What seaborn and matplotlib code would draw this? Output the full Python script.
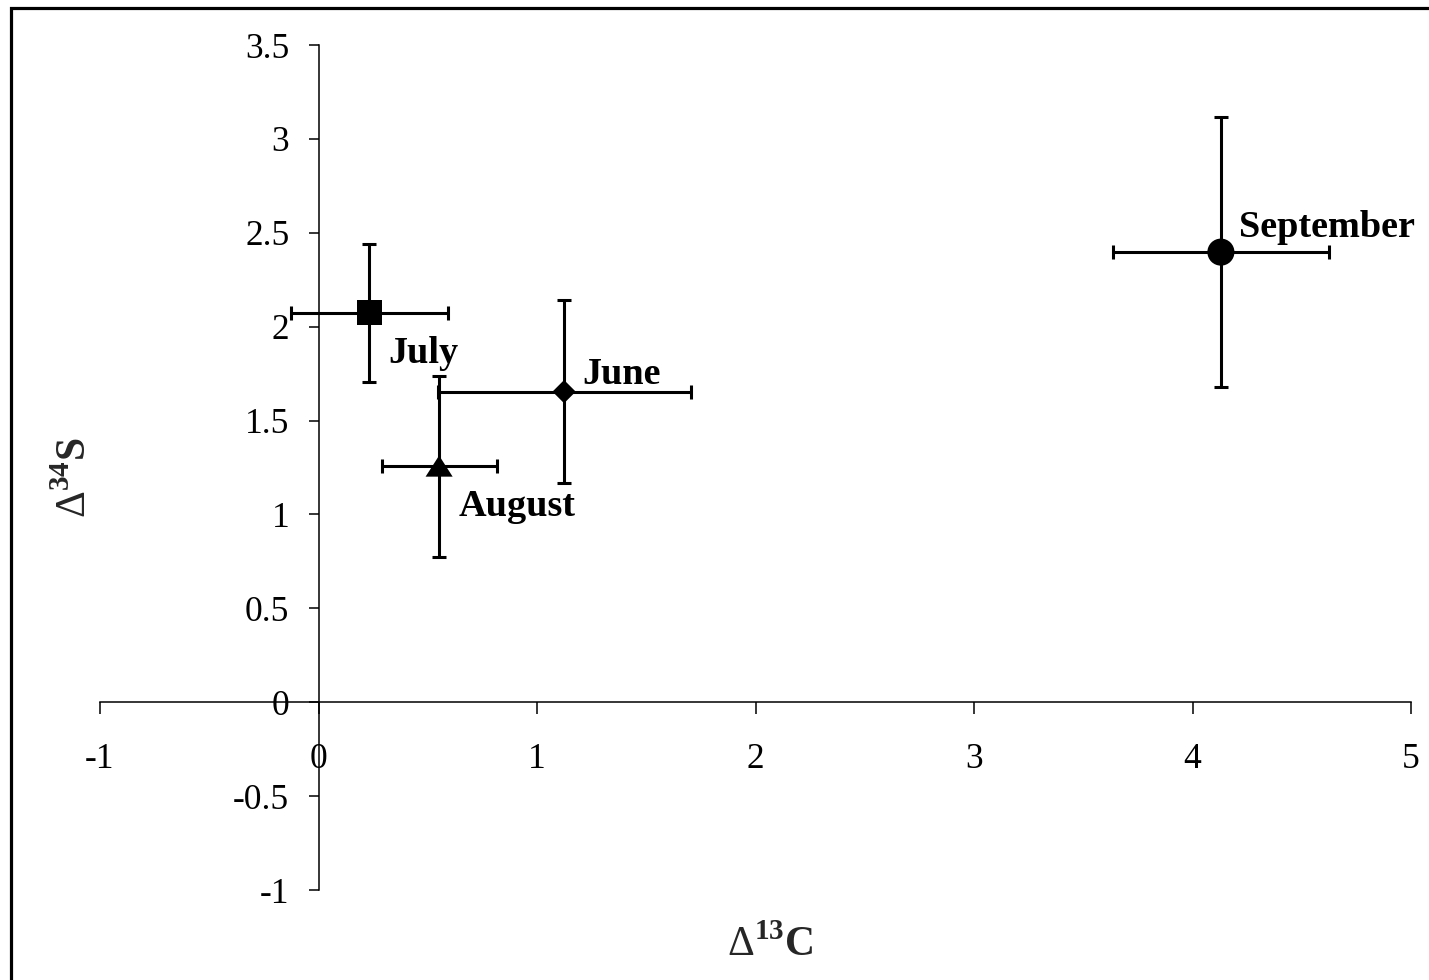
import numpy as np
import pandas as pd
import matplotlib
matplotlib.use("Agg")
import matplotlib.pyplot as plt
from matplotlib.patches import Rectangle
from matplotlib.path import Path
import seaborn as sns

# Sampling months with mean isotope shifts and their uncertainties
months = ["July", "August", "June", "September"]
d13c = [0.233, 0.552, 1.124, 4.130]
d13c_err = [0.360, 0.263, 0.579, 0.493]
d34s = [2.073, 1.256, 1.654, 2.397]
d34s_err = [0.367, 0.480, 0.488, 0.719]

x_ticks = [-1, 0, 1, 2, 3, 4, 5]
x_tick_labels = ["-1", "0", "1", "2", "3", "4", "5"]
y_ticks = [-1, -0.5, 0, 0.5, 1, 1.5, 2, 2.5, 3, 3.5]
y_tick_labels = ["-1", "-0.5", "0", "0.5", "1", "1.5", "2", "2.5", "3", "3.5"]

df = pd.DataFrame({"month": months, "d13c": d13c, "d13c_err": d13c_err,
                   "d34s": d34s, "d34s_err": d34s_err})

sns.set_theme(style="white")
plt.rcParams["font.family"] = ["Liberation Serif", "DejaVu Serif"]
plt.rcParams["mathtext.fontset"] = "custom"
plt.rcParams["mathtext.rm"] = "Liberation Serif"
plt.rcParams["mathtext.bf"] = "Liberation Serif:bold"

fig = plt.figure(figsize=(14.29, 9.8), dpi=100)
fig.patch.set_facecolor("white")
ax = fig.add_axes([100 / 1429, 1 - 890 / 980, 1311 / 1429, 845 / 980])
ax.set_facecolor("white")

# error bars first, markers on top
ax.errorbar(df["d13c"], df["d34s"], xerr=df["d13c_err"], yerr=df["d34s_err"],
            fmt="none", ecolor="black", elinewidth=2.2, capsize=5, capthick=2.2,
            zorder=2)

tri = Path([(0, 0.8), (-1, -0.76), (1, -0.76), (0, 0.8)],
           [Path.MOVETO, Path.LINETO, Path.LINETO, Path.CLOSEPOLY])
marker_map = {"July": "s", "August": tri, "June": "D", "September": "o"}
size_map = {"July": 324, "August": 380, "June": 140, "September": 380}

sns.scatterplot(data=df, x="d13c", y="d34s", style="month", markers=marker_map,
                size="month", sizes=size_map, color="black", edgecolor="none",
                linewidth=0, legend=False, ax=ax, zorder=3)

# month labels placed next to each point
label_offsets = {"July": (13.5, -36), "August": (14.4, -36),
                 "June": (13.2, 5.3), "September": (13.2, 10.8)}
for m, x, y in zip(df["month"], df["d13c"], df["d34s"]):
    ax.annotate(m, (x, y), xytext=label_offsets[m], textcoords="offset points",
                ha="left", va="baseline", fontsize=27.5, fontweight="bold",
                color="black")

ax.set_xlim(-1, 5)
ax.set_ylim(-1, 3.5)

for s in ["top", "right"]:
    ax.spines[s].set_visible(False)
ax.spines["left"].set_position(("data", 0))
ax.spines["bottom"].set_position(("data", 0))
for s in ["left", "bottom"]:
    ax.spines[s].set_color("black")
    ax.spines[s].set_linewidth(1.1)

ax.set_xticks(x_ticks)
ax.set_xticklabels(x_tick_labels)
ax.set_yticks(y_ticks)
ax.set_yticklabels(y_tick_labels)
ax.tick_params(axis="x", direction="out", length=8.5, width=1.1, color="black",
               pad=21, labelsize=25.5, labelcolor="black", bottom=True)
ax.tick_params(axis="y", direction="out", length=7, width=1.1, color="black",
               pad=14, labelsize=25.5, labelcolor="black", left=True)
ax.grid(False)

ax.set_xlabel(r"$\mathrm{\Delta}^{\mathbf{13}}\mathbf{C}$", fontsize=30)
ax.xaxis.set_label_coords((770 - 100) / 1311, -(945 - 890) / 845)
ax.xaxis.label.set_va("center")
ax.set_ylabel(r"$\mathrm{\Delta}^{\mathbf{34}}\mathbf{S}$", fontsize=30)
ax.yaxis.set_label_coords(-(100 - 75) / 1311, (890 - 478) / 845)
ax.yaxis.label.set_va("center")

# frame along the top and left of the figure
fig.patches.append(Rectangle((10.5 / 1429, -0.05), 1.2, 1.05 - 8.5 / 980,
                             transform=fig.transFigure, fill=False,
                             edgecolor="black", linewidth=2.3, zorder=10))

fig.savefig("out.png", dpi=100, facecolor="white")
